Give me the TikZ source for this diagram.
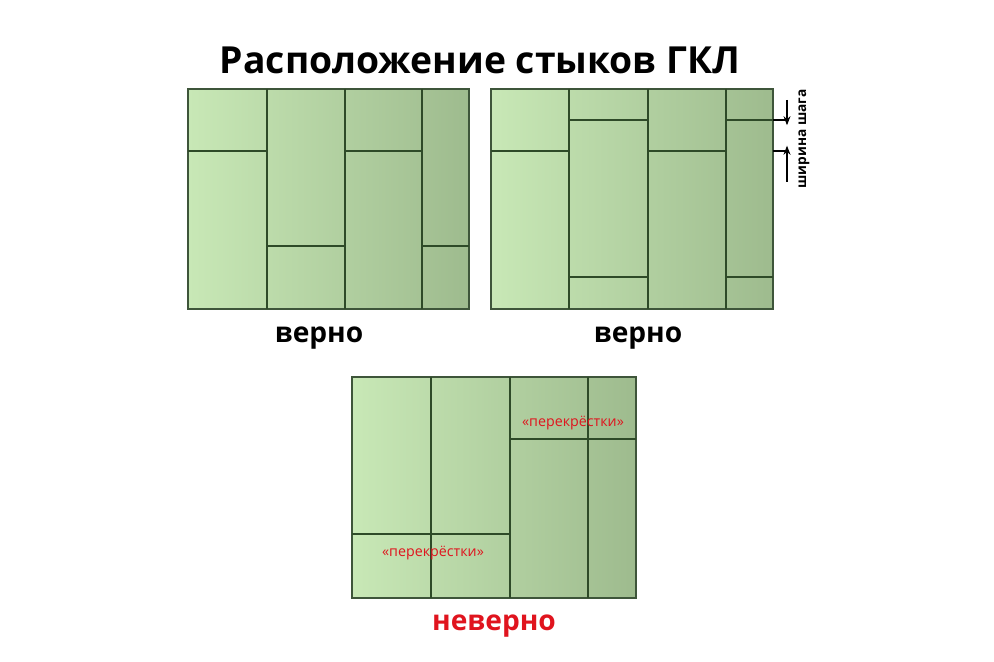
\documentclass[tikz,border=0pt]{standalone}
\usepackage{fontspec}
\usetikzlibrary{arrows.meta}
\setmainfont{Open Sans}
\definecolor{gl}{HTML}{C8E8B6}
\definecolor{gd}{HTML}{9EBB8E}
\definecolor{seamc}{HTML}{2E4A28}
\definecolor{redtxt}{HTML}{E0141E}
\begin{document}
\begin{tikzpicture}[x=0.01cm,y=-0.01cm,
  panel/.style={left color=gl,right color=gd,draw=seamc!80!gray,line width=0.55pt},
  seam/.style={draw=seamc,line width=0.45pt},
  ttl/.style={font=\fontsize{10.6pt}{12pt}\selectfont\bfseries,text=black},
  verdict/.style={font=\fontsize{8pt}{9pt}\selectfont\bfseries,text=black},
  crossing/.style={font=\fontsize{4.05pt}{5pt}\selectfont,text=redtxt},
  dim/.style={font=\fontsize{3.9pt}{4.5pt}\selectfont\bfseries,text=black},
  arr/.style={draw=black,line width=0.3pt,-{Stealth[length=2.6pt,width=2pt]}}]
\useasboundingbox (0,0) rectangle (994,662);
\fill[white] (0,0) rectangle (994,662);
\node[ttl] (title) at (480,60) {Расположение стыков ГКЛ};
% panel 1
\shade[panel] (188,89) rectangle (469,309);
\draw[seam] (267,89) -- (267,309) (345,89) -- (345,309) (422,89) -- (422,309);
\draw[seam] (188,151) -- (267,151) (267,246) -- (345,246) (345,151) -- (422,151) (422,246) -- (469,246);
\node[verdict] (v1) at (319,338) {верно};
% panel 2
\shade[panel] (491,89) rectangle (773,309);
\draw[seam] (569,89) -- (569,309) (648,89) -- (648,309) (726,89) -- (726,309);
\draw[seam] (491,151) -- (569,151) (569,120) -- (648,120) (569,277) -- (648,277)
  (648,151) -- (726,151) (726,120) -- (773,120) (726,277) -- (773,277);
\coordinate (e1) at (787,120);
\coordinate (e2) at (787,151);
\coordinate (a1) at (787,100);
\coordinate (a2) at (787,182);
\draw[draw=black,line width=0.35pt] (773,120) -- (e1) (773,151) -- (e2);
\draw[arr] (a1) -- ([yshift=-1.5]e1);
\draw[arr] (a2) -- ([yshift=1.5]e2);
\node[dim,rotate=90] (step) at (804,139) {ширина шага};
\node[verdict] (v2) at (638,338) {верно};
% panel 3
\shade[panel] (352,377) rectangle (636,598);
\draw[seam] (431,377) -- (431,598) (510,377) -- (510,598) (588,377) -- (588,598);
\draw[seam] (352,534) -- (510,534) (510,439) -- (636,439);
\node[crossing] (c1) at (433,553) {«перекрёстки»};
\node[crossing] (c2) at (573,423) {«перекрёстки»};
\node[verdict,text=redtxt] (v3) at (494,626) {неверно};
\end{tikzpicture}
\end{document}
